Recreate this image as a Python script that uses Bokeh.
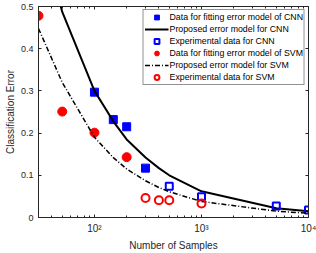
from bokeh.plotting import figure
from bokeh.models import (LinearAxis, Legend, LegendItem, FixedTicker, CustomJSTickFormatter)
from bokeh.embed import file_html
from bokeh.resources import INLINE

# Data
cnn_fit_n = [100, 150, 200, 300]
cnn_fit_err = [0.297, 0.232, 0.215, 0.117]
cnn_exp_n = [500, 1000, 5000, 10000]
cnn_exp_err = [0.074, 0.049, 0.027, 0.018]
svm_fit_n = [30, 50, 100, 200]
svm_fit_err = [0.478, 0.251, 0.201, 0.143]
svm_exp_n = [300, 400, 500, 1000]
svm_exp_err = [0.046, 0.041, 0.041, 0.033]
model_n = [30, 50, 100, 150, 200, 300, 400, 500, 1000, 5000, 10000]
cnn_model = [0.70, 0.487, 0.30, 0.228, 0.185, 0.142, 0.117, 0.10, 0.062, 0.022, 0.015]
svm_model = [0.448, 0.32, 0.19, 0.142, 0.115, 0.087, 0.071, 0.061, 0.038, 0.015, 0.010]
y_ticks = [0, 0.1, 0.2, 0.3, 0.4, 0.5]
x_ticks = [100, 1000, 10000]
x_minor = [30, 40, 50, 60, 70, 80, 90, 200, 300, 400, 500, 600, 700, 800, 900,
           2000, 3000, 4000, 5000, 6000, 7000, 8000, 9000]

AX = "#262626"
FONT = "Liberation Sans"

p = figure(width=316, height=253, x_axis_type="log", x_range=(30, 10000), y_range=(0, 0.5),
           output_backend="svg", toolbar_location=None,
           min_border_left=38, min_border_right=8, min_border_top=6, min_border_bottom=34)
p.grid.visible = False
p.outline_line_color = AX
p.outline_line_width = 1

def style_axis(ax, labels=True):
    ax.axis_line_color = AX
    ax.major_tick_line_color = AX
    ax.minor_tick_line_color = AX
    ax.major_tick_in = 3
    ax.major_tick_out = 0
    ax.minor_tick_in = 2
    ax.minor_tick_out = 0
    ax.major_label_text_color = AX
    ax.major_label_text_font = FONT
    ax.major_label_text_font_size = "9px"
    ax.axis_label_text_font = FONT
    ax.axis_label_text_font_style = "normal"
    ax.axis_label_text_color = AX
    ax.axis_label_text_font_size = "10px"
    if not labels:
        ax.major_label_standoff = 0
        ax.axis_label_standoff = 0
        ax.major_label_text_font_size = "0px"
        ax.formatter = CustomJSTickFormatter(code="return ''")

sup_fmt = CustomJSTickFormatter(code="""
const s = {'0':'\u2070','1':'\u00b9','2':'\u00b2','3':'\u00b3','4':'\u2074','5':'\u2075',
           '6':'\u2076','7':'\u2077','8':'\u2078','9':'\u2079','-':'\u207b'};
const e = String(Math.round(Math.log10(tick)));
return '10' + e.split('').map(c => s[c]).join('');
""")

xticker = FixedTicker(ticks=x_ticks, minor_ticks=x_minor)
xa = p.xaxis[0]
xa.ticker = xticker
xa.axis_label = "Number of Samples"
style_axis(xa)
xa.formatter = sup_fmt
xa.major_label_text_font_size = "10px"
xa.major_label_standoff = 5
xa.axis_label_standoff = 3

ya = p.yaxis[0]
ya.ticker = FixedTicker(ticks=y_ticks)
ya.axis_label = "Classification Error"
style_axis(ya)
ya.minor_tick_line_color = None
ya.major_label_standoff = 5
ya.axis_label_standoff = 2

top = LinearAxis(ticker=xticker)
style_axis(top, labels=False)
p.add_layout(top, "above")
right = LinearAxis(ticker=FixedTicker(ticks=y_ticks))
style_axis(right, labels=False)
right.minor_tick_line_color = None
p.add_layout(right, "right")

r1 = p.scatter(cnn_fit_n, cnn_fit_err, marker="square", size=8, fill_color="#0000ff", line_color="#0000ff")
r2 = p.line(model_n, cnn_model, line_color="black", line_width=2)
r3 = p.scatter(cnn_exp_n, cnn_exp_err, marker="square", size=7, fill_color=None, line_color="#0000ff", line_width=2)
r4 = p.scatter(svm_fit_n, svm_fit_err, marker="circle", size=9, fill_color="#ff0000", line_color="#ff0000")
r5 = p.line(model_n, svm_model, line_color="black", line_width=1.5, line_dash="5 2 1 2")
r6 = p.scatter(svm_exp_n, svm_exp_err, marker="circle", size=8, fill_color=None, line_color="#ff0000", line_width=2)

legend = Legend(items=[
    LegendItem(label="Data for fitting error model of CNN", renderers=[r1]),
    LegendItem(label="Proposed error model for CNN", renderers=[r2]),
    LegendItem(label="Experimental data for CNN", renderers=[r3]),
    LegendItem(label="Data for fitting error model of SVM", renderers=[r4]),
    LegendItem(label="Proposed error model for SVM", renderers=[r5]),
    LegendItem(label="Experimental data for SVM", renderers=[r6]),
], location="top_right")
legend.margin = 3
legend.padding = 1
legend.spacing = 0
legend.glyph_width = 24
legend.glyph_height = 12
legend.label_height = 12
legend.label_standoff = 1
legend.label_text_font = FONT
legend.label_text_font_size = "8.8px"
legend.label_text_color = "black"
legend.border_line_color = AX
legend.border_line_width = 1
legend.background_fill_alpha = 1
p.add_layout(legend, "center")

open("out.html", "w").write(file_html(p, INLINE))
